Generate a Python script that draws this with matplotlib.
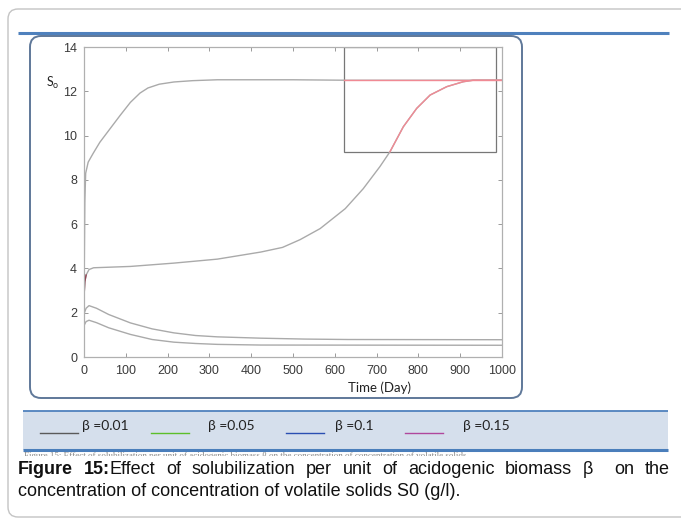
import matplotlib.pyplot as plt
from matplotlib.patches import FancyBboxPatch, Rectangle
from matplotlib.transforms import Bbox
import numpy as np

# values (time in days, S0 in g/l)
t_a = [0, 2, 4, 10, 22, 38, 54, 70, 86, 111, 134, 153, 180, 215, 260, 319, 500, 623, 1000]
so_a = [2.7, 7.0, 8.3, 8.8, 9.2, 9.7, 10.1, 10.5, 10.9, 11.5, 11.92, 12.15, 12.32, 12.42, 12.48, 12.52, 12.52, 12.5, 12.5]

t_b = [0, 2, 5, 12, 23, 111, 215, 319, 423, 475, 517, 565, 625, 668, 708, 732, 764, 796, 828, 868, 907, 931, 1000]
so_b = [2.7, 3.4, 3.7, 3.95, 4.03, 4.09, 4.24, 4.42, 4.74, 4.95, 5.3, 5.8, 6.7, 7.6, 8.6, 9.27, 10.4, 11.23, 11.83, 12.21, 12.43, 12.5, 12.5]

t_c = [0, 5, 12, 30, 59, 111, 163, 215, 267, 319, 423, 527, 631, 1000]
so_c = [1.95, 2.2, 2.32, 2.2, 1.92, 1.54, 1.27, 1.09, 0.97, 0.91, 0.85, 0.81, 0.79, 0.78]

t_d = [0, 5, 12, 30, 59, 111, 163, 215, 267, 319, 423, 1000]
so_d = [1.42, 1.6, 1.66, 1.55, 1.32, 1.02, 0.79, 0.67, 0.61, 0.57, 0.54, 0.53]

# zoom window drawn on the original figure
zoom_t = [623, 986]
zoom_so = [9.25, 14.0]

beta_labels = ['β =0.01', 'β =0.05', 'β =0.1', 'β =0.15']
beta_colors = ['#5a5a5a', '#5cbf2a', '#2a4fb2', '#b0479c']

x_ticks = list(range(0, 1001, 100))
y_ticks = list(range(0, 15, 2))

caption_1 = ['Figure', '15:', 'Effect', 'of', 'solubilization', 'per', 'unit', 'of',
             'acidogenic', 'biomass', 'β', 'on', 'the']
caption_2 = 'concentration of concentration of volatile solids S0 (g/l).'

W, H = 681, 525
fig = plt.figure(figsize=(W / 100, H / 100), dpi=100)
fig.patch.set_facecolor('white')

# background axes in pixel units (y down) for the page decoration
bg = fig.add_axes([0, 0, 1, 1], zorder=0)
bg.set_xlim(0, W)
bg.set_ylim(H, 0)
bg.axis('off')

# outer grey frame
bg.add_patch(FancyBboxPatch((8, 9), 720, 508, boxstyle='round,pad=0,rounding_size=10',
                            fc='white', ec='#c4c4c4', lw=1.0))
# blue rule at the top
bg.plot([18, 669], [33, 33], color='#4f81bd', lw=2.2, solid_capstyle='butt')
# rounded box round the plot
bg.add_patch(FancyBboxPatch((30, 36), 492, 362, boxstyle='round,pad=0,rounding_size=11',
                            fc='white', ec='#5f7899', lw=1.4))

# legend band
bg.add_patch(Rectangle((23, 411), 645, 39, fc='#d5dfec', ec='none'))
bg.plot([23, 668], [411, 411], color='#4f81bd', lw=1.3, solid_capstyle='butt')
bg.plot([23, 668], [450, 450], color='#4a7ebb', lw=2.2, solid_capstyle='butt')
line_x = [40, 151, 286, 405]
text_x = [82, 208, 335, 463]
for lx, tx, lab, col in zip(line_x, text_x, beta_labels, beta_colors):
    bg.plot([lx, lx + 38], [433, 433], color=col, lw=1.0)
    bg.text(tx, 426, lab, fontsize=10, family='Lato', color='#222222', va='center', ha='left')

# cut-off text line just below the band (only its top shows)
ghost = bg.text(24, 452, 'Figure 15: Effect of solubilization per unit of acidogenic biomass β on the '
                'concentration of concentration of volatile solids',
                fontsize=6.5, family='Liberation Serif', color='#8a8a8a', va='top', ha='left')
ghost.set_clip_box(Bbox.from_extents(18, H - 456, 668, H - 451))
ghost.set_clip_on(True)

# caption
cap_font = ['Liberation Sans Narrow', 'Liberation Sans']
cap_size = 13
words = []
for w in caption_1:
    bold = w in ('Figure', '15:')
    words.append(bg.text(0, 470, w, fontsize=cap_size, family=cap_font,
                         weight='bold' if bold else 'normal', color='#111111',
                         va='center', ha='left'))
bg.text(18, 492, caption_2, fontsize=cap_size, family=cap_font, color='#111111',
        va='center', ha='left')

# justify the first caption line between 18 and 670 px
fig.canvas.draw()
rend = fig.canvas.get_renderer()
widths = [t.get_window_extent(rend).width for t in words]
gaps = [1.0] * (len(words) - 1)
gaps[1] = 0.0           # "15:" is glued to "Effect"
gaps[caption_1.index('on') - 1] = 2.0
unit = (670 - 18 - sum(widths)) / sum(gaps)
x = 18
for t, w, g in zip(words, widths, gaps + [0]):
    t.set_x(x)
    x += w + g * unit

# the plot itself
ax = fig.add_axes([84 / W, 1 - 357 / H, (502 - 84) / W, (357 - 47) / H], zorder=1)
ax.set_facecolor('white')
grey = '#aaaaaa'
for t, s in [(t_a, so_a), (t_b, so_b), (t_c, so_c), (t_d, so_d)]:
    ax.plot(t, s, color=grey, lw=1.0)

# red parts inside the zoom window
for t, s in [(t_a, so_a), (t_b, so_b)]:
    t = np.array(t)
    s = np.array(s)
    m = (t >= zoom_t[0]) & (s >= zoom_so[0])
    ax.plot(t[m], s[m], color='#f08a94', lw=1.0)
ax.plot(t_b[:3], so_b[:3], color='#8c3a4a', lw=1.0)

ax.add_patch(Rectangle((zoom_t[0], zoom_so[0]), zoom_t[1] - zoom_t[0], zoom_so[1] - zoom_so[0],
                       fill=False, ec='#777777', lw=0.9))

ax.set_xlim(0, 1000)
ax.set_ylim(0, 14)
ax.set_xticks(x_ticks)
ax.set_yticks(y_ticks)
tick_font = ['Liberation Sans Narrow', 'Liberation Sans']
ax.tick_params(direction='in', length=3, width=0.6, color='#8a8a8a', top=True, right=True,
               labelsize=9, labelcolor='#3a3a3a')
ax.tick_params(axis='x', pad=6)
ax.tick_params(axis='y', pad=5)
for lab in ax.get_xticklabels() + ax.get_yticklabels():
    lab.set_family(tick_font)
for sp in ax.spines.values():
    sp.set_color('#b0b0b0')
    sp.set_linewidth(0.9)

bg.text(380, 388, 'Time (Day)', fontsize=9.5, family='Lato', color='#222222',
        ha='center', va='center')
bg.text(46, 83, r'S$_\mathregular{o}$', fontsize=9, family='Lato', color='#222222',
        ha='left', va='center')

fig.savefig('out.png', dpi=100, facecolor='white')
